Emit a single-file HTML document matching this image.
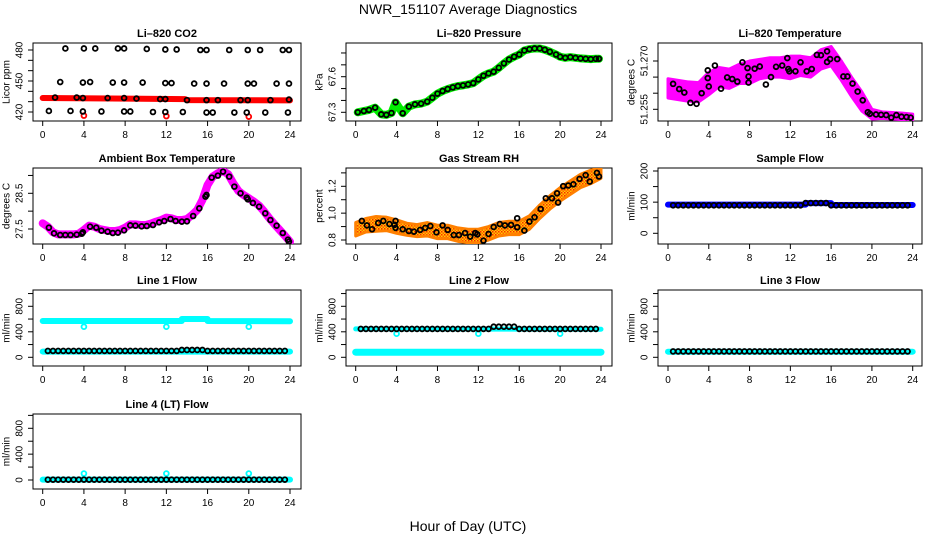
<!DOCTYPE html>
<html><head><meta charset="utf-8"><style>
body{margin:0;background:#fff}
svg{display:block;font-family:"Liberation Sans",sans-serif}
</style></head><body>
<svg id="c" width="936" height="540" viewBox="0 0 936 540">
<defs>
<pattern id="rh" width="3" height="3" patternUnits="userSpaceOnUse">
<rect width="3" height="3" fill="#ffd000"/><rect width="1.5" height="1.5" fill="#ff2000"/><rect x="1.5" y="1.5" width="1.5" height="1.5" fill="#ff5a00"/>
</pattern>
</defs>
<text x="468" y="14" font-size="14" text-anchor="middle">NWR_151107  Average Diagnostics</text>
<text x="468" y="531" font-size="14" text-anchor="middle">Hour of Day (UTC)</text>
</svg>
<script>
// ---- data ----
const xTicks=[0,4,8,12,16,20,24];
// CO2
const co2TopH=[2.2,4,5.1,7.3,7.9,10.1,11.9,13,15.3,15.9,18.1,19.9,21.1,23.3,23.9];
const co2TopV=[481.5,481.5,481.5,481.5,481.5,481,480.5,480.5,480,480,480,480,480,480,480];
const co2MidH=[1.7,3.9,4.6,6.8,7.9,9.7,11.9,12.5,14.7,15.9,17.6,19.9,20.5,22.7,23.9];
const co2MidV=[449,448.5,449,448.5,448.5,448.5,448,448,447.5,447.5,447.5,447.5,447.5,447.5,447.5];
const co2LowH=[1.2,3.3,3.9,6.3,7.9,9.1,11.4,11.9,14,15.9,17,19.2,19.9,22.1,23.9];
const co2LowV=[434,434,433.5,433.5,433.5,433,432.5,432.5,431.5,431.5,431.5,431.5,431.5,431.5,432];
const co2BotH=[0.6,2.7,3.9,5.7,7.9,8.5,10.7,11.9,13.6,15.9,16.5,18.6,19.8,21.6,23.8];
const co2BotV=[421,421,420.5,420.5,420.5,420.5,420,420,420,419.5,419.5,419.5,419.5,419.5,419.5];
const co2RedH=[0,13.8,14,24];
const co2RedV=[433.5,432.5,431.5,431.3];
const co2RedPtH=[4,12,20];
const co2RedPtV=[416.5,416,415.5];
// Pressure
const presH=[0.2,0.8,1.3,1.9,2.5,3,3.5,3.9,4.6,5.2,5.8,6.4,7,7.5,8,8.5,9,9.5,10,10.5,11,11.5,12,12.5,13,13.5,14,14.5,15,15.5,16,16.5,17,17.5,18,18.5,19,19.6,20,20.5,21,21.5,22,22.5,23,23.5,23.8];
const presV=[67.300,67.311,67.320,67.339,67.283,67.278,67.294,67.384,67.292,67.348,67.367,67.373,67.390,67.423,67.457,67.479,67.496,67.510,67.521,67.527,67.535,67.546,67.577,67.608,67.628,67.642,67.675,67.712,67.745,67.768,67.787,67.821,67.832,67.838,67.838,67.827,67.810,67.787,67.768,67.759,67.765,67.759,67.754,67.751,67.748,67.751,67.751];
// Li-820 temperature
const tempH=[0.5,1.1,1.6,2.2,2.8,3.3,3.9,3.9,4,4.6,5.2,5.8,6.3,6.8,7.3,7.8,7.9,7.9,8.5,9,9.6,10.1,10.6,11.2,11.7,11.8,11.9,12.5,13,13.6,14.1,14.6,15,15.6,15.6,15.9,16.6,17.2,17.6,18.1,18.6,19.1,19.6,19.8,20.4,20.9,21.4,21.9,22.4,22.9,23.4,23.8];
const tempV=[51.2629,51.2613,51.2602,51.2570,51.2567,51.2600,51.2671,51.2647,51.2621,51.2686,51.2614,51.2649,51.2644,51.2636,51.2696,51.2678,51.2652,51.2633,51.2676,51.2683,51.2627,51.2650,51.2682,51.2686,51.2709,51.2675,51.2668,51.2668,51.2696,51.2668,51.2675,51.2719,51.2718,51.2730,51.2697,51.2706,51.2706,51.2652,51.2652,51.2630,51.2605,51.2578,51.2541,51.2536,51.2534,51.2533,51.2532,51.2524,51.2532,51.2527,51.2526,51.2524];
const tempBandH=[0,1,2,3,4,5,6,7,8,9,10,11,12,13,14,15,16,17,18,19,20,21,22,23,24];
const tempBandV=[51.2615,51.261,51.2605,51.2603,51.263,51.265,51.2645,51.266,51.2665,51.2675,51.268,51.268,51.268,51.2685,51.268,51.2705,51.2715,51.267,51.262,51.2575,51.2535,51.2532,51.253,51.2528,51.2525];
const tempBandW=[0.003,0.003,0.003,0.003,0.0035,0.003,0.003,0.003,0.0035,0.003,0.003,0.003,0.0035,0.003,0.003,0.003,0.003,0.003,0.003,0.003,0.0015,0.001,0.001,0.001,0.001];
// Ambient box temperature
const ambBandH=[0,0.5,1,1.5,2,2.5,3,3.5,4,4.5,5,5.5,6,6.5,7,7.5,8,8.5,9,9.5,10,10.5,11,11.5,12,12.5,13,13.5,14,14.5,15,15.5,16,16.5,17,17.5,18,18.5,19,19.5,20,20.5,21,21.5,22,22.5,23,23.5,24];
const ambBandV=[27.659,27.565,27.407,27.350,27.350,27.350,27.350,27.369,27.472,27.593,27.565,27.5,27.472,27.444,27.444,27.472,27.537,27.631,27.631,27.612,27.612,27.650,27.706,27.752,27.818,27.799,27.752,27.752,27.780,27.893,28.033,28.313,28.734,28.967,29.061,29.126,29.033,28.780,28.565,28.453,28.360,28.266,28.154,27.986,27.799,27.631,27.472,27.313,27.145];
const ambH=[0.6,1.1,1.7,2.2,2.7,3.3,3.8,3.9,4.6,5.2,5.7,6.3,6.8,7.3,7.9,8.5,9.0,9.6,10.1,10.7,11.3,11.8,12.4,12.9,13.5,14,14.6,15.2,15.8,15.9,16.4,17,17.5,18.1,18.6,19.2,19.8,19.9,20.4,21,21.6,22.1,22.7,23.3,23.8,23.9];
const ambV=[27.537,27.379,27.332,27.332,27.332,27.341,27.369,27.407,27.565,27.537,27.453,27.425,27.388,27.397,27.463,27.603,27.593,27.575,27.584,27.612,27.687,27.724,27.780,27.724,27.706,27.715,27.864,28.079,28.407,28.453,28.939,28.995,29.107,28.967,28.687,28.5,28.379,28.332,28.229,28.126,27.939,27.752,27.593,27.388,27.201,27.145];
// Gas stream RH
const rhH=[0.6,1.1,1.6,2.2,2.7,3.3,3.8,3.9,3.9,4.6,5.2,5.7,6.3,6.8,7.3,7.9,8.5,9,9.6,10.1,10.7,11.2,11.7,11.9,12.5,13,13.5,14.1,14.6,15.2,15.8,15.8,16.5,17,17.5,18.1,18.6,19.2,19.7,19.8,20.3,20.8,21.3,21.9,22.5,22.9,23.6,23.8];
const rhV=[0.942,0.909,0.880,0.927,0.942,0.919,0.912,0.942,0.890,0.880,0.867,0.862,0.875,0.890,0.904,0.857,0.909,0.875,0.837,0.837,0.852,0.825,0.852,0.842,0.795,0.845,0.897,0.919,0.909,0.912,0.962,0.895,0.870,0.937,0.969,1.031,1.111,1.111,1.148,1.079,1.201,1.206,1.215,1.255,1.283,1.235,1.300,1.273];
const rhBandH=[0,1,2,3,4,5,6,7,8,9,10,11,12,13,14,15,16,17,18,19,20,21,22,23,24];
const rhBandV=[0.88,0.91,0.92,0.92,0.90,0.88,0.87,0.88,0.86,0.86,0.84,0.83,0.83,0.85,0.88,0.89,0.89,0.93,1.01,1.08,1.14,1.19,1.24,1.27,1.30];
const rhBandW=[0.05,0.05,0.055,0.05,0.05,0.045,0.045,0.05,0.05,0.05,0.05,0.05,0.05,0.05,0.05,0.05,0.05,0.05,0.05,0.05,0.05,0.05,0.05,0.05,0.04];
// Flows (black circle series share hours)
const flowH=[0.5,1,1.5,2,2.5,3,3.5,4,4.5,5,5.5,6,6.5,7,7.5,8,8.5,9,9.5,10,10.5,11,11.5,12,12.5,13,13.5,14,14.5,15,15.5,16,16.5,17,17.5,18,18.5,19,19.5,20,20.5,21,21.5,22,22.5,23,23.5];
const sampleV=[90,90,90,90,90,90,90,90,90,90,90,90,90,90,90,90,90,90,90,90,90,90,90,90,90,90,97,97,97,97,97,90,90,90,90,90,90,90,90,90,90,90,90,90,90,90,90];
const line1V=[100,100,100,100,100,100,100,100,100,100,100,100,100,100,100,100,100,100,100,100,100,100,100,100,100,100,115,115,115,115,115,100,100,100,100,100,100,100,100,100,100,100,100,100,100,100,100];
const line2V=[445,445,445,445,445,445,445,445,445,445,445,445,445,445,445,445,445,445,445,445,445,445,445,445,445,445,480,480,480,480,480,445,445,445,445,445,445,445,445,445,445,445,445,445,445,445,445];
const line3V=[92,92,92,92,92,92,92,92,92,92,92,92,92,92,92,92,92,92,92,92,92,92,92,92,92,92,92,92,92,92,92,92,92,92,92,92,92,92,92,92,92,92,92,92,92,92,92];
const line4V=[5,5,5,5,5,5,5,5,5,5,5,5,5,5,5,5,5,5,5,5,5,5,5,5,5,5,5,5,5,5,5,5,5,5,5,5,5,5,5,5,5,5,5,5,5,5,5];
const sampleBlueH=[0,13.5,13.5,16,16,24];
const sampleBlueV=[92,92,97,97,91,91];
const line1CyanHiH=[0,13.5,13.5,16,16,24];
const line1CyanHiV=[570,570,600,600,570,565];
const line1CyanLoH=[0,24];
const line1CyanLoV=[90,90];
const line2CyanHiH=[0,24];
const line2CyanHiV=[445,440];
const line2CyanLoH=[0,24];
const line2CyanLoV=[80,80];
const line3CyanH=[0,24];
const line3CyanV=[88,88];
const line4CyanH=[0,24];
const line4CyanV=[5,5];
const dipH=[4,12,20];
const line1DipV=[480,480,480];
const line2DipV=[370,370,370];
const line4DipV=[100,100,100];

// ---- drawing ----
const svg=document.getElementById('c');
const NS='http://www.w3.org/2000/svg';
function el(tag,attrs,parent){const e=document.createElementNS(NS,tag);for(const k in attrs)e.setAttribute(k,attrs[k]);(parent||svg).appendChild(e);return e;}
const cols=[{l:33,r:301,x0:42.7,x24:290},{l:346,r:612,x0:355.7,x24:601},{l:658,r:922,x0:668,x24:912.7}];
const rows=[{t:43,b:121},{t:168,b:244},{t:290,b:366},{t:414,b:489}];

function panel(name,title,ci,ri,v1,p1,v2,p2,ticks,labels,ylab){
  const c=cols[ci],r=rows[ri];
  const g=el('g',{});
  
  
  const sx=h=>c.x0+(c.x24-c.x0)*h/24;
  const sy=v=>p1+(p2-p1)*(v-v1)/(v2-v1);
  const t=el('text',{x:(c.l+c.r)/2,y:r.t-6,'font-size':11,'font-weight':'bold','text-anchor':'middle'},g);
  t.textContent=title;
  
  
  const box=el('rect',{x:c.l,y:r.t,width:c.r-c.l,height:r.b-r.t,fill:'none',stroke:'#000','stroke-width':1},g);
  
  
  const xa=el('g',{},g);
  
  
  el('line',{x1:sx(0),x2:sx(24),y1:r.b,y2:r.b,stroke:'#000'},xa);
  xTicks.forEach(h=>{el('line',{x1:sx(h),x2:sx(h),y1:r.b,y2:r.b+5,stroke:'#000'},xa);
    const tl=el('text',{x:sx(h),y:r.b+17,'font-size':10,'text-anchor':'middle'},xa);tl.textContent=h;});
  const ya=el('g',{},g);
  
  
  el('line',{x1:c.l,x2:c.l,y1:sy(ticks[0]),y2:sy(ticks[ticks.length-1]),stroke:'#000'},ya);
  ticks.forEach(v=>el('line',{x1:c.l-5,x2:c.l,y1:sy(v),y2:sy(v),stroke:'#000'},ya));
  labels.forEach(v=>{const y=sy(+v);const tl=el('text',{x:c.l-13,y:y+0,'font-size':10,'text-anchor':'middle','dominant-baseline':'middle',transform:`rotate(-90 ${c.l-13} ${y})`},ya);tl.textContent=v;});
  const yl=el('text',{x:c.l-26,y:(r.t+r.b)/2,'font-size':10,'text-anchor':'middle','dominant-baseline':'middle',transform:`rotate(-90 ${c.l-26} ${(r.t+r.b)/2})`},g);
  yl.textContent=ylab;
  
  
  const clip='clip'+name;
  const cp=el('clipPath',{id:clip},g);el('rect',{x:c.l,y:r.t,width:c.r-c.l,height:r.b-r.t},cp);
  const plot=el('g',{'clip-path':`url(#${clip})`},g);
  return {sx,sy,plot,name};
}
function pts(P,H,V,color,label,r,sw){
  const g=el('g',{},P.plot);
  
  
  H.forEach((h,i)=>el('circle',{cx:P.sx(h),cy:P.sy(V[i]),r:r||2.4,fill:'none',stroke:color,'stroke-width':sw||1.8},g));
}
function line(P,H,V,color,w,label){
  const p=el('polyline',{points:H.map((h,i)=>P.sx(h)+','+P.sy(V[i])).join(' '),fill:'none',stroke:color,'stroke-width':w,'stroke-linejoin':'round','stroke-linecap':'round'},P.plot);
  
  
}
function band(P,H,V,W,fill,label){
  const up=H.map((h,i)=>P.sx(h)+','+P.sy(V[i]+W[i]));
  const lo=H.map((h,i)=>P.sx(h)+','+P.sy(V[i]-W[i])).reverse();
  const p=el('polygon',{points:up.concat(lo).join(' '),fill:fill,stroke:fill==='url(#rh)'?'#ff8000':fill,'stroke-width':3,'stroke-linejoin':'round'},P.plot);
  
  
}
const rng=(a,b,s)=>{const o=[];for(let v=a;v<=b+1e-9;v+=s)o.push(+v.toFixed(4));return o;};

let P=panel('co2','Li\u2013820 CO2',0,0,420,112,480,50,rng(420,480,10),['420','450','480'],'Licor ppm');
line(P,co2RedH,co2RedV,'#ff0000',6,'red-band');
pts(P,co2RedPtH,co2RedPtV,'#ff0000','red-points');
pts(P,co2TopH,co2TopV,'#000','top-points');
pts(P,co2MidH,co2MidV,'#000','mid-points');
pts(P,co2LowH,co2LowV,'#000','low-points');
pts(P,co2BotH,co2BotV,'#000','bottom-points');
P=panel('pressure','Li\u2013820 Pressure',1,0,67.3,112.3,67.6,76.7,rng(67.3,67.8,0.1),['67.3','67.6'],'kPa');
line(P,presH,presV,'#00ee00',8,'green-band');
pts(P,presH,presV,'#000','points');
P=panel('li820-temp','Li\u2013820 Temperature',2,0,51.255,109.3,51.270,61,rng(51.255,51.270,0.005),['51.255','51.270'],'degrees C');
band(P,tempBandH,tempBandV,tempBandW,'#ff00ff','magenta-band');
pts(P,tempH,tempV,'#000','points');
P=panel('ambient','Ambient Box Temperature',0,1,27.5,229,28.5,193.3,[27.5,28,28.5,29],['27.5','28.5'],'degrees C');
line(P,ambBandH,ambBandV,'#ff00ff',8,'magenta-band');
pts(P,ambH,ambV,'#000','points');
P=panel('rh','Gas Stream RH',1,1,0.8,240,1.2,186.3,rng(0.8,1.3,0.1),['0.8','1.0','1.2'],'percent');
band(P,rhBandH,rhBandV,rhBandW,'url(#rh)','orange-band');
pts(P,rhH,rhV,'#000','points');
P=panel('sample-flow','Sample Flow',2,1,0,233.3,200,171,rng(0,200,50),['0','100','200'],'ml/min');
line(P,sampleBlueH,sampleBlueV,'#0000ff',6,'blue-band');
pts(P,flowH,sampleV,'#000','points');
P=panel('line1-flow','Line 1 Flow',0,2,0,357.3,800,306.3,rng(0,1000,200),['0','400','800'],'ml/min');
line(P,line1CyanHiH,line1CyanHiV,'#00ffff',6,'cyan-upper-band');
line(P,line1CyanLoH,line1CyanLoV,'#00ffff',6,'cyan-lower-band');
pts(P,dipH,line1DipV,'#00ffff','cyan-dips');
pts(P,flowH,line1V,'#000','points');
P=panel('line2-flow','Line 2 Flow',1,2,0,357.3,800,306.3,rng(0,1000,200),['0','400','800'],'ml/min');
line(P,line2CyanHiH,line2CyanHiV,'#00ffff',5,'cyan-upper-band');
line(P,line2CyanLoH,line2CyanLoV,'#00ffff',7,'cyan-lower-band');
pts(P,dipH,line2DipV,'#00ffff','cyan-dips');
pts(P,flowH,line2V,'#000','points');
P=panel('line3-flow','Line 3 Flow',2,2,0,357.3,800,306.3,rng(0,1000,200),['0','400','800'],'ml/min');
line(P,line3CyanH,line3CyanV,'#00ffff',6,'cyan-band');
pts(P,flowH,line3V,'#000','points');
P=panel('line4-flow','Line 4 (LT) Flow',0,3,0,480,800,428.3,rng(0,1000,200),['0','400','800'],'ml/min');
line(P,line4CyanH,line4CyanV,'#00ffff',6,'cyan-band');
pts(P,dipH,line4DipV,'#00ffff','cyan-dips');
pts(P,flowH,line4V,'#000','points');
</script>
</body></html>
